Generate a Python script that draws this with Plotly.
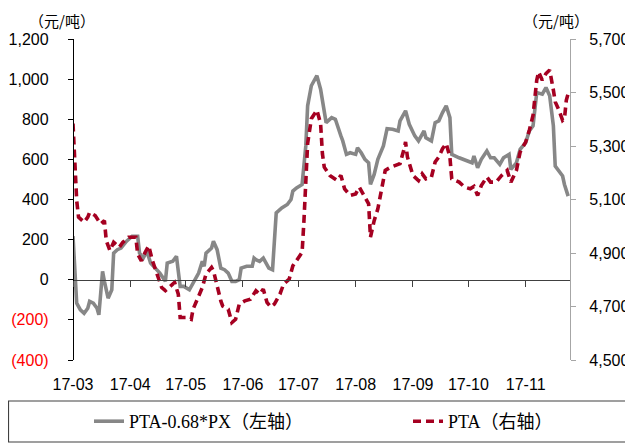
import pandas as pd
import plotly.graph_objects as go

# ---- data ----
start = pd.Timestamp("2017-03-01")

# PTA-0.68*PX spread (left axis, 元/吨); x = days since 2017-03-01
spread_days = [0, 1, 2, 4, 6, 8, 9, 11, 13, 14, 16, 17, 19, 21, 22, 24, 26, 29, 32, 35,
               36, 38, 40, 42, 45, 47, 50, 51, 54, 56, 58, 60, 63, 65, 68, 70, 71, 72, 75, 76,
               78, 80, 82, 84, 86, 88, 90, 91, 94, 97, 98, 99, 101, 103, 106, 108, 110, 113, 116, 118,
               119, 121, 124, 126, 127, 129, 132, 134, 136, 137, 140, 142, 145, 146, 148, 150, 153, 154, 156, 158,
               160, 161, 163, 165, 168, 170, 173, 176, 177, 180, 182, 185, 187, 190, 191, 194, 196, 198, 200, 202,
               204, 205, 209, 213, 216, 217, 219, 221, 224, 226, 228, 231, 233, 236, 237, 240, 242, 245, 247, 249,
               251, 254, 256, 258, 260, 261, 264, 265, 266, 268]
spread_vals = [217, 17, -117, -150, -167, -142, -108, -117, -142, -175, 42, -8, -92, -50, 133, 150, 158, 192, 217, 217,
               133, 108, 142, 83, 50, 33, -8, 83, 92, 117, -33, -33, -50, -17, 33, 92, 67, 133, 158, 192,
               150, 58, 50, 33, -8, -8, 0, 58, 67, 67, 108, 100, 92, 108, 58, 50, 333, 358, 375, 400,
               442, 458, 475, 667, 867, 967, 1017, 950, 817, 783, 808, 800, 717, 692, 625, 633, 625, 658, 633, 600,
               583, 475, 525, 600, 667, 753, 750, 742, 792, 842, 775, 717, 692, 742, 708, 692, 783, 792, 833, 867,
               808, 625, 608, 592, 583, 617, 558, 600, 642, 608, 608, 575, 608, 625, 550, 583, 650, 683, 742, 767,
               933, 925, 958, 917, 767, 567, 525, 517, 475, 417]

# PTA price (right axis, 元/吨)
pta_days = [0, 1, 2, 3, 6, 8, 9, 12, 15, 17, 18, 20, 22, 25, 27, 30, 34, 35, 37, 39,
            41, 43, 45, 48, 50, 53, 55, 57, 58, 61, 64, 65, 67, 70, 72, 75, 76, 78, 80, 81,
            84, 86, 88, 90, 93, 96, 99, 101, 103, 105, 107, 109, 112, 114, 117, 119, 121, 124, 125, 126,
            127, 129, 132, 134, 135, 136, 139, 143, 145, 147, 150, 153, 155, 157, 160, 161, 163, 165, 167, 169,
            172, 174, 177, 179, 180, 181, 184, 187, 189, 191, 194, 196, 198, 200, 202, 204, 205, 209, 212, 215,
            217, 219, 221, 224, 226, 229, 232, 235, 237, 240, 242, 245, 247, 249, 251, 252, 254, 256, 258, 260,
            261, 263, 265, 266, 267, 268]
pta_vals = [5384, 5246, 5096, 5034, 5015, 5034, 5052, 5040, 5009, 5021, 4946, 4909, 4940, 4921, 4940, 4959, 4959, 4896, 4871, 4902,
            4927, 4871, 4834, 4771, 4759, 4777, 4790, 4746, 4659, 4659, 4652, 4690, 4721, 4771, 4821, 4846, 4834, 4771, 4721, 4702,
            4690, 4640, 4652, 4709, 4721, 4727, 4759, 4746, 4765, 4715, 4698, 4709, 4746, 4784, 4802, 4852, 4871, 4902, 5021, 5159,
            5309, 5402, 5434, 5384, 5271, 5221, 5190, 5171, 5190, 5140, 5115, 5121, 5146, 5121, 5084, 4959, 5021, 5065, 5134, 5209,
            5221, 5227, 5234, 5284, 5315, 5259, 5190, 5171, 5196, 5177, 5184, 5240, 5259, 5290, 5309, 5259, 5177, 5165, 5146, 5140,
            5149, 5115, 5152, 5184, 5165, 5165, 5190, 5209, 5165, 5209, 5277, 5315, 5359, 5415, 5546, 5577, 5546, 5571, 5584, 5509,
            5465, 5434, 5396, 5402, 5471, 5496]

month_ticks = ["2017-03-01", "2017-04-01", "2017-05-01", "2017-06-01", "2017-07-01",
               "2017-08-01", "2017-09-01", "2017-10-01", "2017-11-01"]
month_labels = ["17-03", "17-04", "17-05", "17-06", "17-07", "17-08", "17-09", "17-10", "17-11"]

left_ticks = [-400, -200, 0, 200, 400, 600, 800, 1000, 1200]
left_labels = ["(400)", "(200)", "0", "200", "400", "600", "800", "1,000", "1,200"]
right_ticks = [4500, 4700, 4900, 5100, 5300, 5500, 5700]

series_names = ["PTA-0.68*PX（左轴）", "PTA（右轴）"]
unit_text = "（元/吨）"

# ---- figure ----
spread_x = [start + pd.Timedelta(days=d) for d in spread_days]
pta_x = [start + pd.Timedelta(days=d) for d in pta_days]

GRAY = "#878787"
RED = "#A50021"
TICKFONT = dict(family="Liberation Sans, Arial", size=16, color="#000000")
CJK = "Noto Sans CJK SC"
LEGFONT = dict(family="Liberation Serif, Times New Roman, " + CJK, size=18, color="#000000")

fig = go.Figure()
fig.add_trace(go.Scatter(x=spread_x, y=spread_vals, mode="lines", name=series_names[0],
                         line=dict(color=GRAY, width=3.6), yaxis="y", legend="legend"))
fig.add_trace(go.Scatter(x=pta_x, y=pta_vals, mode="lines", name=series_names[1],
                         line=dict(color=RED, width=3.6, dash="8px,5px"), yaxis="y2", legend="legend2"))

left_text = [f"<span style='color:#FF0000'>{t}</span>" if v < 0 else t
             for v, t in zip(left_ticks, left_labels)]

# the page body adds an 8px offset; the figure is sized to fill the rest of the window
fig.update_layout(
    width=625, height=437,
    margin=dict(l=65, r=63, t=31, b=85, autoexpand=False),
    paper_bgcolor="white", plot_bgcolor="white",
    showlegend=True,
    xaxis=dict(type="date", range=[start, start + pd.Timedelta(days=269)],
               tickvals=month_ticks, ticktext=month_labels,
               anchor="free", position=0.25, automargin=False,
               showline=True, linecolor="#404040", linewidth=1.3,
               ticks="outside", ticklen=6, tickcolor="#404040", tickwidth=1.3,
               ticklabelstandoff=84, tickfont=TICKFONT, showgrid=False, zeroline=False),
    yaxis=dict(range=[-400, 1200], tickvals=left_ticks, ticktext=left_text,
               anchor="free", position=0, automargin=False,
               showline=True, linecolor="#000000", linewidth=1.3,
               ticks="outside", ticklen=5, tickcolor="#000000", tickwidth=1.3,
               ticklabelstandoff=16, tickfont=TICKFONT, showgrid=False, zeroline=False),
    yaxis2=dict(range=[4500, 5700], tickvals=right_ticks, tickformat=",d",
                overlaying="y", side="right", anchor="free", position=1, automargin=False,
                showline=True, linecolor="#A6A6A6", linewidth=1.3,
                ticks="outside", ticklen=5, tickcolor="#A6A6A6", tickwidth=1.3,
                ticklabelstandoff=10, tickfont=TICKFONT, showgrid=False, zeroline=False),
    legend=dict(orientation="h", xref="container", yref="container",
                x=0.1296, xanchor="left", y=0.0538, yanchor="middle",
                font=LEGFONT, bgcolor="rgba(0,0,0,0)", borderwidth=0),
    legend2=dict(orientation="h", xref="container", yref="container",
                 x=0.64, xanchor="left", y=0.0538, yanchor="middle",
                 font=LEGFONT, bgcolor="rgba(0,0,0,0)", borderwidth=0),
    shapes=[dict(type="rect", xref="paper", yref="paper",
                 x0=-0.1298, x1=1.1227, y0=-0.2555, y1=-0.1277,
                 line=dict(color="#404040", width=1.2), fillcolor="rgba(0,0,0,0)", layer="below")],
    annotations=[
        dict(text=unit_text, xref="paper", yref="paper", x=-0.0221, y=1.0966, showarrow=False,
             xanchor="center", yanchor="top",
             font=dict(family=CJK, size=15, color="#000000")),
        dict(text=unit_text, xref="paper", yref="paper", x=0.9718, y=1.0966, showarrow=False,
             xanchor="center", yanchor="top",
             font=dict(family=CJK, size=15, color="#000000")),
    ],
)

fig.write_html("out.html")
